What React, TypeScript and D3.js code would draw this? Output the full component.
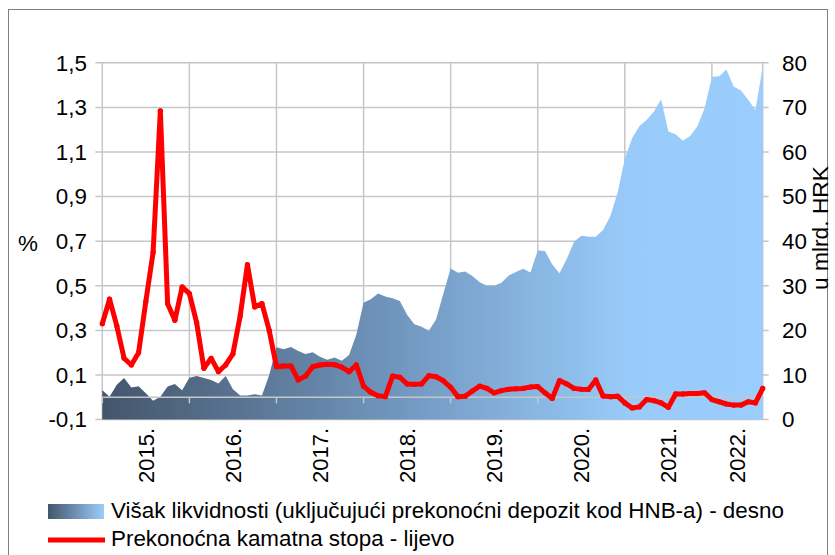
import React from 'react';
import * as d3 from 'd3';

// monthly, Jan 2015 - Aug 2022
const yearLabels = ['2015.', '2016.', '2017.', '2018.', '2019.', '2020.', '2021.', '2022.'];

// Prekonoćna kamatna stopa (%, lijevo)
const overnightRate = [
  0.33, 0.44, 0.32, 0.175, 0.145, 0.2, 0.43, 0.65, 1.285, 0.42, 0.345, 0.495,
  0.465, 0.335, 0.13, 0.175, 0.115, 0.145, 0.195, 0.365, 0.595, 0.405, 0.42, 0.3,
  0.137, 0.14, 0.14, 0.078, 0.095, 0.137, 0.145, 0.148, 0.146, 0.135, 0.115, 0.145,
  0.05, 0.022, 0.007, 0.003, 0.095, 0.09, 0.06, 0.058, 0.06, 0.097, 0.092, 0.074,
  0.045, 0.003, 0.005, 0.028, 0.05, 0.04, 0.02, 0.03, 0.036, 0.038, 0.04, 0.046,
  0.048, 0.02, -0.005, 0.075, 0.06, 0.04, 0.036, 0.035, 0.078, 0.006, 0.003, 0.005,
  -0.025, -0.048, -0.043, -0.01, -0.015, -0.025, -0.045, 0.015, 0.015, 0.017, 0.017, 0.02,
  -0.01, -0.02, -0.03, -0.035, -0.035, -0.02, -0.025, 0.04,
];

// Višak likvidnosti (mlrd. HRK, desno)
const excessLiquidity = [
  6.6, 5.1, 7.8, 9.3, 7.2, 7.5, 5.9, 4.2, 5.1, 7.4, 8.0, 6.6,
  9.4, 9.8, 9.3, 8.9, 8.1, 9.8, 6.8, 5.4, 5.4, 5.7, 5.4, 10.0,
  16.2, 15.8, 16.3, 15.4, 14.7, 15.1, 14.1, 13.4, 13.9, 13.2, 14.5, 19.0,
  26.2, 27.0, 28.3, 27.6, 27.2, 26.6, 23.5, 21.4, 20.8, 19.9, 22.5, 28.3,
  33.9, 32.9, 33.2, 32.2, 30.8, 30.0, 30.0, 30.7, 32.3, 33.1, 33.8, 33.0,
  37.9, 37.8, 34.8, 32.8, 36.0, 39.9, 41.2, 41.0, 41.0, 42.5, 45.6, 50.8,
  58.5, 63.1, 65.8, 67.2, 69.0, 71.8, 64.6, 64.0, 62.5, 63.6, 65.8, 69.8,
  76.9, 77.0, 78.5, 74.7, 73.8, 71.7, 69.4, 79.1,
];

const leftTicks = [-0.1, 0.1, 0.3, 0.5, 0.7, 0.9, 1.1, 1.3, 1.5];
const rightTicks = [0, 10, 20, 30, 40, 50, 60, 70, 80];

const legendArea = 'Višak likvidnosti (uključujući prekonoćni depozit kod HNB-a) - desno';
const legendLine = 'Prekonoćna kamatna stopa - lijevo';

const font = '"Liberation Sans", Arial, sans-serif';
const grid = '#c6c6c6';
const fs = 22.4;

export default function App() {
  const left = 102.3, right = 762.7, top = 62.8, bottom = 419.6;
  const n = overnightRate.length;

  const x = d3.scaleLinear().domain([0, n - 1]).range([left, right]);
  const yL = d3.scaleLinear().domain([-0.1, 1.5]).range([bottom, top]);
  const yR = d3.scaleLinear().domain([0, 80]).range([bottom, top]);

  const area = d3.area<number>()
    .x((_, i) => x(i))
    .y0(yR(0))
    .y1(d => yR(d));
  const line = d3.line<number>()
    .x((_, i) => x(i))
    .y(d => yL(d));

  const fmt = (v: number) => d3.format('.1f')(v).replace('.', ',').replace('−', '-');
  const yearStarts = yearLabels.map((_, k) => k * 12);

  return (
    <svg width={835} height={555} style={{position: 'absolute', left: 0, top: 0}}
      fontFamily={font}>
      <defs>
        <linearGradient id="liq" gradientUnits="userSpaceOnUse" x1={left} x2={right} y1={0} y2={0}>
          <stop offset="0" stopColor="#44556b" />
          <stop offset="0.45" stopColor="#7197bf" />
          <stop offset="0.8" stopColor="#99cbfa" />
          <stop offset="1" stopColor="#9acdfd" />
        </linearGradient>
        <linearGradient id="liqLeg" x1="0" x2="1" y1="0" y2="0">
          <stop offset="0" stopColor="#44556b" />
          <stop offset="1" stopColor="#9acdfd" />
        </linearGradient>
      </defs>
      <rect x={0} y={0} width={835} height={555} fill="#fff" />
      <rect x={8.5} y={9.5} width={819} height={600} fill="none" stroke="#7f7f7f" strokeWidth={1} />

      {/* horizontal gridlines */}
      {leftTicks.map(t => (
        <line key={'h' + t} x1={left - 7} x2={right + 6} y1={yL(t)} y2={yL(t)}
          stroke={grid} strokeWidth={1.5} />
      ))}
      {/* vertical gridlines */}
      {yearStarts.map(i => (
        <line key={'v' + i} x1={x(i)} x2={x(i)} y1={top} y2={bottom} stroke={grid} strokeWidth={1.5} />
      ))}
      <line x1={right} x2={right} y1={top} y2={bottom} stroke={grid} strokeWidth={1.5} />

      <path d={area(excessLiquidity) || ''} fill="url(#liq)" />

      {/* category axis at 0 */}
      <line x1={left} x2={right} y1={yL(0)} y2={yL(0)} stroke={grid} strokeWidth={1.5} />
      {yearStarts.map(i => (
        <line key={'t' + i} x1={x(i)} x2={x(i)} y1={yL(0)} y2={yL(0) + 6} stroke={grid} strokeWidth={1.5} />
      ))}

      <path d={line(overnightRate) || ''} fill="none" stroke="#ff0000" strokeWidth={5}
        strokeLinejoin="round" strokeLinecap="round" />
      {overnightRate.map((d, i) => (
        <circle key={'m' + i} cx={x(i)} cy={yL(d)} r={2.6} fill="#ff0000" />
      ))}

      {/* left axis */}
      {leftTicks.map(t => (
        <text key={'l' + t} x={87} y={yL(t)} dy="0.35em" textAnchor="end" fontSize={fs}>{fmt(t)}</text>
      ))}
      <text x={28} y={243} dy="0.35em" textAnchor="middle" fontSize={fs}>%</text>

      {/* right axis */}
      {rightTicks.map(t => (
        <text key={'r' + t} x={782} y={yR(t)} dy="0.35em" textAnchor="start" fontSize={fs}>{t}</text>
      ))}
      <text transform={`translate(828,${228}) rotate(-90)`} textAnchor="middle" fontSize={fs}
        textLength={124} lengthAdjust="spacingAndGlyphs">u mlrd. HRK</text>

      {/* year labels */}
      {yearLabels.map((lab, k) => {
        const a = k * 12;
        const b = Math.min(a + 12, n - 1);
        const cx = (x(a) + x(b)) / 2;
        return (
          <text key={lab} transform={`translate(${cx},${428}) rotate(-90)`} textAnchor="end"
            dy="0.35em" fontSize={22}>{lab}</text>
        );
      })}

      {/* legend */}
      <rect x={48} y={504} width={56} height={15} fill="url(#liqLeg)" />
      <text x={111} y={518} fontSize={fs}>{legendArea}</text>
      <line x1={48} x2={105} y1={540} y2={540} stroke="#ff0000" strokeWidth={5} />
      <text x={111} y={546} fontSize={fs}>{legendLine}</text>
    </svg>
  );
}
